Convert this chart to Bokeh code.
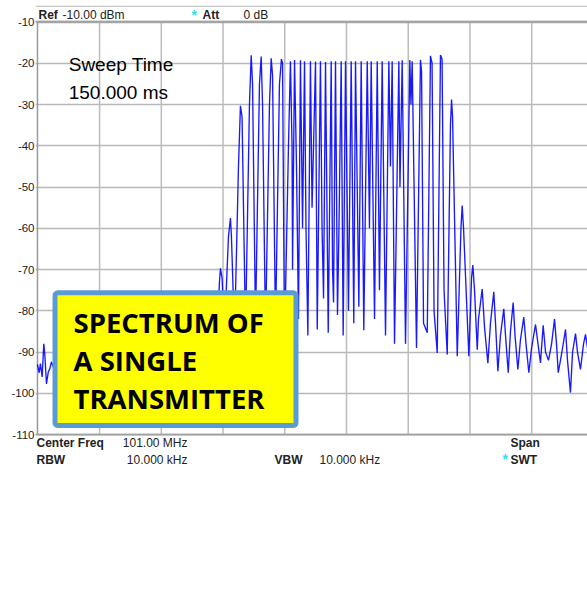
from bokeh.plotting import figure
from bokeh.models import Label, BoxAnnotation, FixedTicker, Range1d, Span
from bokeh.embed import file_html
from bokeh.resources import INLINE

# ---- data: trace (offset from 101.00 MHz in kHz, level in dBm)
freq_offset_khz = [
    -250.3, -248.9, -247.9, -246.5, -245.2, -244.4, -243.0, -241.6, -240.3, -239.0,
    -235.7, -231.7, -227.6, -223.6, -218.7, -213.8, -209.0, -204.1, -199.3, -194.4,
    -189.5, -184.7, -179.8, -175.0, -170.1, -165.2, -160.4, -155.5, -150.7, -145.8,
    -140.9, -136.1, -131.2, -126.4, -121.5, -116.6, -112.6, -108.5, -105.3,
    -102.9, -102.1, -100.8, -98.8, -95.6, -94.0, -93.2, -90.7, -87.5, -85.9, -84.6,
    -81.8, -78.6, -77.2, -76.1, -73.7, -70.5, -69.1, -68.0, -65.6, -62.4, -61.0,
    -59.9, -57.5, -54.3, -52.7, -51.8, -50.2, -47.0, -45.4, -44.1, -43.7, -42.1,
    -40.5, -38.9, -37.3, -36.0, -35.6, -34.0, -32.8, -31.3, -29.2, -27.9, -26.7,
    -25.1, -23.7, -21.1, -19.8, -18.6, -17.0, -14.8, -12.4, -11.3, -10.5, -8.9,
    -7.3, -6.1, -4.3, -2.7, -0.8, 1.6, 3.8, 5.9, 7.3, 10.0, 11.9, 14.0, 16.8,
    18.6, 20.0, 22.7, 24.9, 26.7, 28.9, 31.6, 34.3, 35.6, 37.0, 38.9, 42.4, 43.3,
    45.1, 47.8, 51.3, 52.2, 53.2, 56.7, 59.9, 60.8, 62.4, 65.4, 68.0, 69.3, 70.9,
    73.5, 76.1, 77.4, 79.0, 81.6, 84.2, 85.1, 85.9, 89.7, 92.7, 93.7, 94.8, 99.1,
    101.3, 102.3, 103.7, 105.9, 106.9, 109.9, 111.8, 114.5, 116.6, 119.3, 120.7,
    122.6, 124.7, 127.4, 128.8, 131.0, 132.8, 135.0, 136.5, 138.8, 140.9, 143.6,
    145.4, 147.7, 149.9, 153.1, 155.1, 157.1, 159.3, 161.2, 163.6, 166.1, 168.5,
    170.1, 171.5, 173.3, 175.0, 177.4, 179.0, 181.4, 183.1, 185.5, 187.1, 189.5,
    192.0, 193.6, 195.2,
]
level_dbm = [
    -93.0, -95.0, -92.8, -96.0, -88.0, -90.4, -97.7, -94.9, -94.0, -92.4,
    -95.0, -90.0, -96.0, -91.0, -97.0, -90.0, -95.0, -89.0, -96.0, -90.0,
    -94.0, -88.0, -95.0, -89.0, -93.0, -87.0, -94.0, -88.0, -92.0, -86.0,
    -92.0, -85.0, -91.0, -84.0, -90.0, -82.0, -89.0, -80.0, -88.0,
    -73.0, -69.7, -72.0, -85.0, -62.0, -57.5, -62.0, -86.0, -45.0, -30.3, -33.0,
    -85.0, -30.0, -18.1, -25.0, -83.0, -25.0, -18.4, -30.0, -85.0, -30.0, -18.8,
    -23.0, -84.0, -25.0, -19.0, -20.0, -88.0, -40.0, -19.5, -40.0, -70.0, -19.2,
    -45.0, -82.0, -19.3, -50.0, -60.0, -19.5, -60.0, -86.0, -19.5, -55.0, -40.0,
    -19.6, -84.5, -19.5, -60.0, -77.0, -19.7, -85.3, -19.5, -70.0, -78.0, -19.5,
    -81.0, -60.0, -19.5, -86.0, -19.5, -80.0, -19.5, -83.0, -19.5, -79.0, -19.5,
    -84.7, -19.5, -60.0, -19.5, -82.0, -19.5, -75.0, -19.5, -86.0, -19.5, -45.0,
    -19.5, -88.0, -19.5, -50.0, -19.3, -88.0, -19.2, -30.0, -19.5, -89.0, -19.2,
    -22.0, -83.0, -85.3, -18.2, -20.0, -80.0, -90.2, -18.0, -19.0, -75.0, -90.6,
    -35.0, -28.8, -33.0, -91.0, -60.0, -54.5, -60.0, -91.0, -72.0, -68.9, -75.0,
    -89.4, -82.0, -74.7, -84.0, -92.7, -83.0, -75.4, -83.0, -94.6, -86.0, -79.5,
    -86.0, -95.0, -85.0, -78.0, -86.0, -94.2, -87.0, -81.5, -88.0, -95.0, -89.0,
    -83.3, -88.0, -92.6, -83.5, -90.0, -92.0, -88.0, -82.0, -88.0, -95.0, -92.0,
    -89.0, -84.5, -92.0, -99.8, -90.0, -85.5, -90.0, -94.2, -88.0, -85.7, -89.0,
]
y_ticks = [-110, -100, -90, -80, -70, -60, -50, -40, -30, -20, -10]
x_grid_khz = [-200, -150, -100, -50, 0, 50, 100, 150]
box_lines = ["SPECTRUM OF", "A SINGLE", "TRANSMITTER"]

REF, BOTTOM = -10, -110
X0, X1 = -250.3, 195.2

p = figure(width=587, height=598, output_backend="svg", toolbar_location=None,
           x_range=Range1d(-251.9, X1), y_range=Range1d(-149.7, -4.8),
           min_border_left=35, min_border_right=0, min_border_top=0,
           min_border_bottom=0, background_fill_color="white",
           border_fill_color="white")
p.outline_line_color = None
p.xaxis.visible = False

# y axis (labels only; line drawn over the measured range)
p.yaxis.ticker = FixedTicker(ticks=y_ticks)
p.yaxis.major_label_overrides = {t: str(t) for t in y_ticks}
p.yaxis.major_label_text_font = "Liberation Sans"
p.yaxis.major_label_text_font_size = "11.5px"
p.yaxis.major_label_text_color = "#222222"
p.yaxis.major_label_standoff = 1
p.yaxis.major_tick_out = 0
p.yaxis.major_tick_in = 0
p.yaxis.minor_tick_out = 0
p.yaxis.minor_tick_in = 0
p.yaxis.axis_line_color = None

p.xgrid.visible = False
p.ygrid.ticker = FixedTicker(ticks=y_ticks)
p.ygrid.grid_line_color = "#b8b8b8"
p.ygrid.grid_line_width = 1.5

# vertical grid lines over the measured range
p.segment(x0=x_grid_khz, y0=[BOTTOM] * len(x_grid_khz), x1=x_grid_khz,
          y1=[REF] * len(x_grid_khz), line_color="#bcbcbc", line_width=1.5)
# faint header rule
p.segment(x0=[-251.9], y0=[-6.24], x1=[X1], y1=[-6.24], line_color="#c8c8c8", line_width=1.2)
# frame lines
p.add_layout(Span(location=REF, dimension="width", line_color="#a4a4a4", line_width=2.5))
p.add_layout(Span(location=BOTTOM, dimension="width", line_color="#a0a0a0", line_width=1.6))
p.segment(x0=[X0], y0=[BOTTOM], x1=[X0], y1=[REF], line_color="#9a9a9a", line_width=1.5)

# trace
p.line(freq_offset_khz, level_dbm, line_color="#0000ff", line_width=1.35, line_alpha=0.9)

# overlay box
box = BoxAnnotation(left=-236.1, right=-40.9, top=-75.6, bottom=-107.8,
                    fill_color="#ffff00", fill_alpha=1.0, line_color="#5b9bd5",
                    line_width=5, line_alpha=1.0, border_radius=3)
p.add_layout(box)
for txt, yy in zip(box_lines, [-82.8, -92.0, -101.2]):
    p.add_layout(Label(x=-221.1, y=yy, text=txt, text_font="Open Sans",
                       text_font_style="bold", text_font_size="27.5px",
                       text_color="black", text_baseline="middle"))

# sweep time
for txt, yy in zip(["Sweep Time", "150.000 ms"], [-20.3, -27.0]):
    p.add_layout(Label(x=-225.0, y=yy, text=txt, text_font="Liberation Sans",
                       text_font_size="19px", text_color="black",
                       text_baseline="middle"))

def lab(x, y, t, bold=False, color="#222222", align="left", size="12px"):
    p.add_layout(Label(x=x, y=y, text=t, text_font="Liberation Sans",
                       text_font_style="bold" if bold else "normal",
                       text_font_size=size, text_color=color,
                       text_baseline="middle", text_align=align))

# header
lab(-249.5, -8.4, "Ref", bold=True)
lab(-230.0, -8.4, "-10.00 dBm")
lab(-125.5, -8.2, "*", bold=True, color="#33ddee", size="14px")
lab(-116.6, -8.4, "Att", bold=True)
lab(-83.4, -8.4, "0 dB")

# footer
lab(-251.1, -112.1, "Center Freq", bold=True)
lab(-128.8, -112.1, "101.00 MHz", align="right")
lab(-251.1, -116.2, "RBW", bold=True)
lab(-128.8, -116.2, "10.000 kHz", align="right")
lab(-58.3, -116.2, "VBW", bold=True)
lab(-21.9, -116.2, "10.000 kHz")
lab(132.8, -112.1, "Span", bold=True)
lab(126.4, -116.0, "*", bold=True, color="#33ddee", size="14px")
lab(132.8, -116.2, "SWT", bold=True)

open("out.html", "w").write(file_html(p, INLINE))
